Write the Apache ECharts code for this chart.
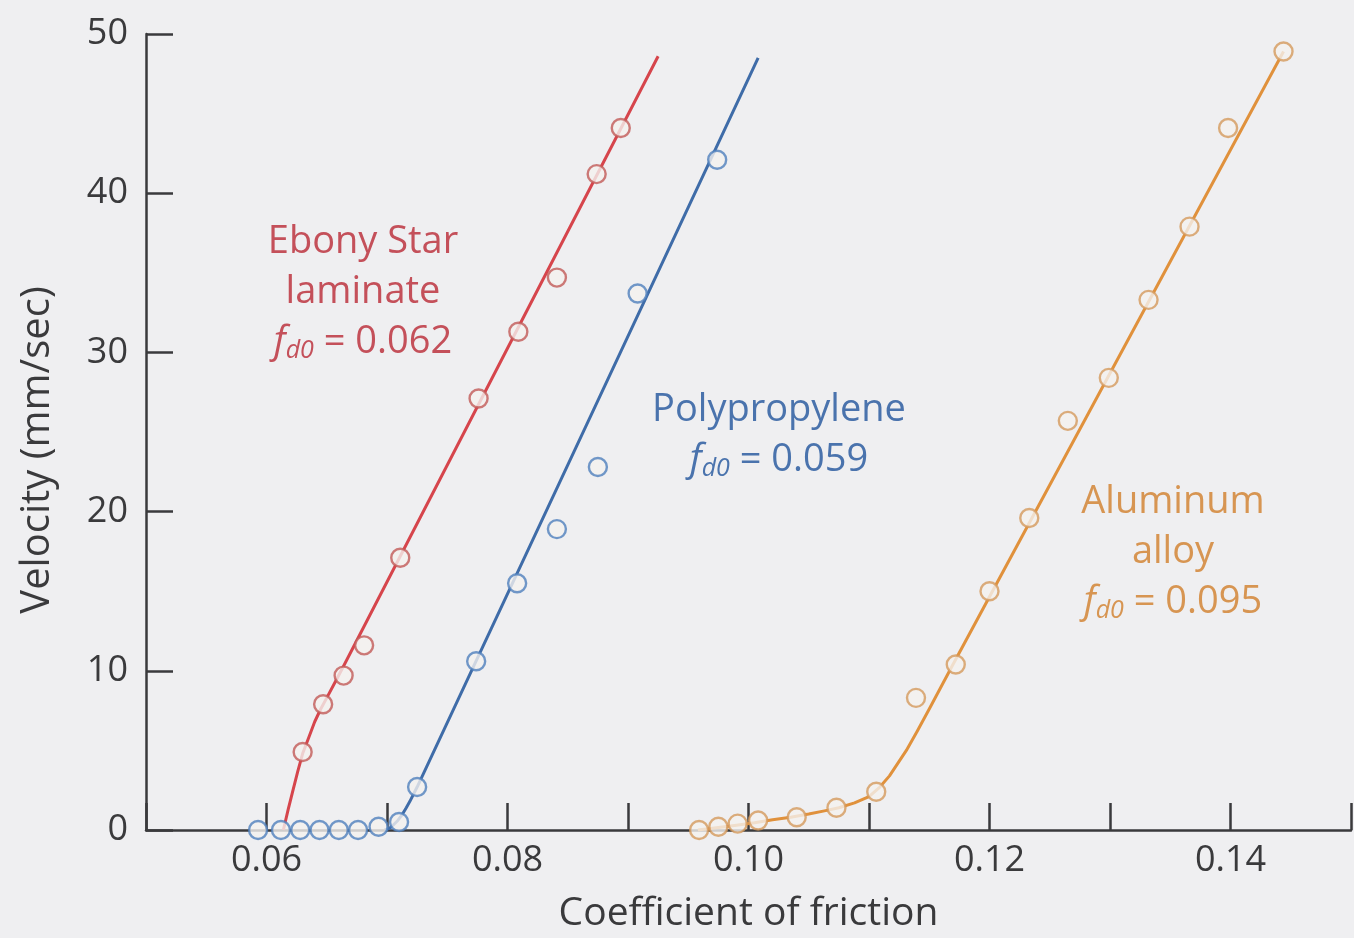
<!DOCTYPE html>
<html>
<head>
<meta charset="utf-8">
<script src="https://cdn.jsdelivr.net/npm/echarts@6/dist/echarts.min.js"></script>
<style>
html,body{margin:0;padding:0;background:#efeff1;}
#c{width:1354px;height:938px;}
</style>
</head>
<body>
<div id="c"></div>
<script>
// Measured points
const ebonyX = [0.0630,0.0647,0.0664,0.0681,0.0711,0.0776,0.0809,0.0841,0.0874,0.0894];
const ebonyY = [4.9,7.9,9.7,11.6,17.1,27.1,31.3,34.7,41.2,44.1];
const polyX = [0.0593,0.0612,0.0628,0.0644,0.0660,0.0676,0.0693,0.0710,0.0725,0.0774,0.0808,0.0841,0.0875,0.0908,0.0974];
const polyY = [0,0,0,0,0,0,0.2,0.5,2.7,10.6,15.5,18.9,22.8,33.7,42.1];
const aluX = [0.0959,0.0975,0.0991,0.1008,0.1040,0.1073,0.1106,0.1139,0.1172,0.1200,0.1233,0.1265,0.1299,0.1332,0.1366,0.1398,0.1444];
const aluY = [0,0.2,0.4,0.6,0.8,1.4,2.4,8.3,10.4,15.0,19.6,25.7,28.4,33.3,37.9,44.1,48.9];
// Fitted curves
const ebonyFitX = [0.0614,0.0618,0.0622,0.0626,0.0630,0.0635,0.0640,0.0645,0.0650,0.0657,0.0664,0.0925];
const ebonyFitY = [0,1.3,2.5,3.7,4.8,5.8,6.8,7.6,8.3,9.3,10.3,48.6];
const polyFitX = [0.0698,0.0702,0.0705,0.0709,0.0712,0.0716,0.0719,0.0725,0.1008];
const polyFitY = [0,0.1,0.3,0.6,0.9,1.4,1.8,2.7,48.5];
const aluFitX = [0.0958,0.0975,0.0990,0.1005,0.1020,0.1035,0.1050,0.1063,0.1075,0.1088,0.1100,0.1109,0.1117,0.1124,0.1131,0.1140,0.1150,0.1169,0.1444];
const aluFitY = [0,0.15,0.3,0.45,0.65,0.8,1.0,1.2,1.4,1.7,2.1,2.7,3.4,4.2,5.0,6.2,7.6,10.3,48.9];
// Labels
const xLabelTicks = [0.06,0.08,0.10,0.12,0.14];
const yTicks = [0,10,20,30,40,50];
const materialNames = [['Ebony Star','laminate'],['Polypropylene'],['Aluminum','alloy']];
const fd0Values = ['0.062','0.059','0.095'];

const zip = (a,b)=>a.map((v,i)=>[v,b[i]]);
const FONT = '"Open Sans", "Noto Sans", sans-serif';
const AX = '#3a3a3c';

const cols = {
  red:   {line:'#d6454c', mark:'#c25a58', text:'#c4505a'},
  blue:  {line:'#3f6ca8', mark:'#4f7fbd', text:'#4a73ad'},
  orange:{line:'#e0913c', mark:'#d49a5c', text:'#d79552'}
};

const chart = echarts.init(document.getElementById('c'), null, {renderer:'canvas'});

function lineSeries(x,y,c){
  return {type:'line', data:zip(x,y), symbol:'none', smooth:false,
    lineStyle:{color:c.line,width:3, join:'round'}, z:2, silent:true};
}
function pointSeries(x,y,c){
  return {type:'scatter', data:zip(x,y), symbol:'circle', symbolSize:18,
    itemStyle:{color:'#f4f1ef', borderColor:c.mark, borderWidth:2.4}, z:3, silent:true};
}

function labelBlock(lines, fd, cx, cy, color){
  const els = [];
  const lh = 50;
  lines.forEach((t,i)=>{
    els.push({type:'text', x:cx, y:cy + i*lh, style:{text:t, fill:color, font:'38px '+FONT, align:'center', verticalAlign:'middle'}});
  });
  els.push({type:'text', x:cx, y:cy + lines.length*lh, style:{
    text:'{f|f}{s|d0}{n| = '+fd+'}', align:'center', verticalAlign:'middle',
    rich:{
      f:{fill:color, fontFamily:FONT, fontSize:38, fontStyle:'italic'},
      s:{fill:color, fontFamily:FONT, fontSize:25, fontStyle:'italic', padding:[18,0,0,0]},
      n:{fill:color, fontFamily:FONT, fontSize:38}
    }}});
  return els;
}

const option = {
  backgroundColor:'#efeff1',
  animation:false,
  grid:{left:146, right:2, top:34, bottom:108, containLabel:false},
  xAxis:{
    type:'value', min:0.05, max:0.15, interval:0.01,
    name:'Coefficient of friction', nameLocation:'middle', nameGap:64,
    nameTextStyle:{color:AX, fontSize:39, fontFamily:FONT},
    axisLine:{show:true, lineStyle:{color:AX, width:2.5}},
    axisTick:{show:true, inside:true, length:27, lineStyle:{color:AX, width:2.5}},
    splitLine:{show:false},
    axisLabel:{color:AX, fontSize:36, fontFamily:FONT, margin:13,
      formatter:v=>{ const m = xLabelTicks.find(t=>Math.abs(t-v)<1e-6); return m===undefined?'':m.toFixed(2);} }
  },
  yAxis:{
    type:'value', min:0, max:50, interval:10,
    name:'Velocity (mm/sec)', nameLocation:'middle', nameGap:88, nameRotate:90,
    nameTextStyle:{color:AX, fontSize:40, fontFamily:FONT, padding:[0,36,0,0]},
    axisLine:{show:true, lineStyle:{color:AX, width:2.5}},
    axisTick:{show:true, inside:true, length:27, lineStyle:{color:AX, width:2.5}},
    splitLine:{show:false},
    axisLabel:{color:AX, fontSize:36, fontFamily:FONT, margin:18,
      formatter:v=> yTicks.includes(v)? String(v) : ''}
  },
  series:[
    lineSeries(ebonyFitX, ebonyFitY, cols.red),
    lineSeries(polyFitX, polyFitY, cols.blue),
    lineSeries(aluFitX, aluFitY, cols.orange),
    pointSeries(ebonyX, ebonyY, cols.red),
    pointSeries(polyX, polyY, cols.blue),
    pointSeries(aluX, aluY, cols.orange)
  ],
  graphic:[
    ...labelBlock(materialNames[0], fd0Values[0], 363, 242, cols.red.text),
    ...labelBlock(materialNames[1], fd0Values[1], 779, 410, cols.blue.text),
    ...labelBlock(materialNames[2], fd0Values[2], 1173, 502, cols.orange.text)
  ]
};
chart.setOption(option);
</script>
</body>
</html>
